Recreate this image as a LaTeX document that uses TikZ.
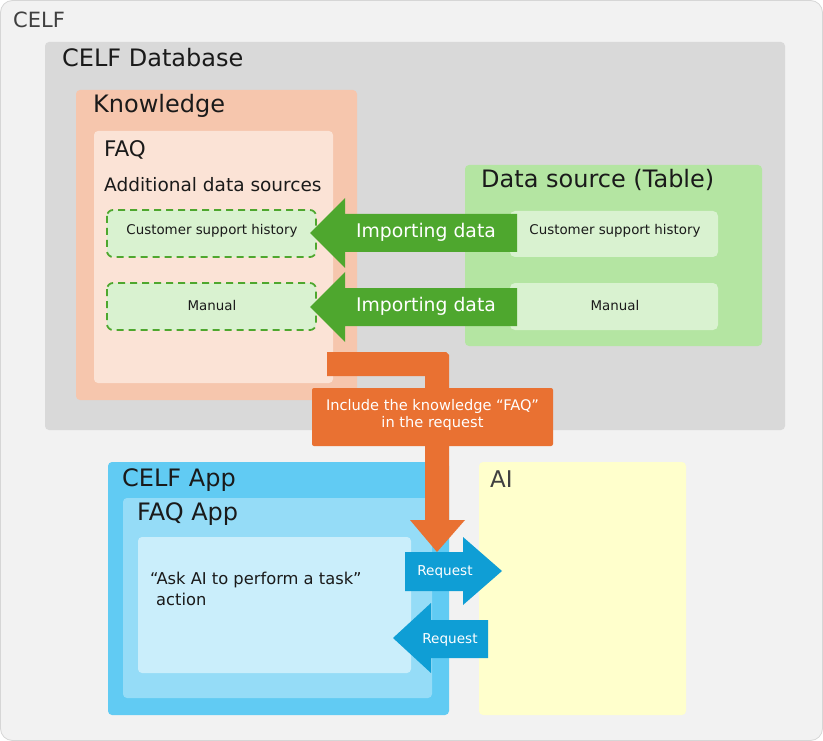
\documentclass[tikz,border=0pt]{standalone}
\usepackage{fontspec}
\setmainfont{DejaVu Sans}
\definecolor{outerbg}{HTML}{F2F2F2}
\definecolor{outerln}{HTML}{D6D6D6}
\definecolor{dbbg}{HTML}{D9D9D9}
\definecolor{orgA}{HTML}{E97132}
\definecolor{orgB}{HTML}{F6C6AD}
\definecolor{orgC}{HTML}{FBE3D6}
\definecolor{grnA}{HTML}{4EA72E}
\definecolor{grnB}{HTML}{B4E5A2}
\definecolor{grnC}{HTML}{D9F2D0}
\definecolor{bluA}{HTML}{0F9ED5}
\definecolor{bluB}{HTML}{61CBF3}
\definecolor{bluC}{HTML}{95DCF7}
\definecolor{bluD}{HTML}{CAEEFB}
\definecolor{aibg}{HTML}{FFFFCC}
\definecolor{txt}{HTML}{1A1A1A}
\definecolor{txtgray}{HTML}{404040}
\tikzset{
  panel/.style={rounded corners=4pt},
  head/.style={anchor=base west, inner sep=0pt, text=txt, font=\fontsize{24}{28}\selectfont},
  small/.style={anchor=base, inner sep=0pt, text=txt, font=\fontsize{13.4}{16}\selectfont},
  arrtxt/.style={anchor=base, inner sep=0pt, text=white},
}
\begin{document}
\begin{tikzpicture}[x=1pt,y=-1pt]
\useasboundingbox (0,0) rectangle (823,741);
% outer
\path[fill=outerbg, draw=outerln, line width=0.8pt, rounded corners=12pt] (0.5,0.5) rectangle (822.5,740.5);
\node[anchor=base west, inner sep=0pt, text=txtgray, font=\fontsize{21}{24}\selectfont] (celf) at (13,28) {CELF};
% database
\path[panel, fill=dbbg] (45,42) rectangle (785,430);
\node[head] (db) at (62,67) {CELF Database};
% knowledge
\path[panel, fill=orgB] (76,90) rectangle (357,400);
\node[head] (kn) at (93,113) {Knowledge};
\path[panel, fill=orgC] (94,131) rectangle (333,383);
\node[head, font=\fontsize{21.5}{24}\selectfont] (faq) at (104,157) {FAQ};
\node[head, font=\fontsize{18.5}{22}\selectfont] (add) at (104,192) {Additional data sources};
\path[rounded corners=6pt, fill=grnC, draw=grnA, line width=1.8pt, dash pattern=on 7pt off 5pt] (107,210) rectangle (316,257);
\node[small] (csh1) at (212,235) {Customer support history};
\path[rounded corners=6pt, fill=grnC, draw=grnA, line width=1.8pt, dash pattern=on 7pt off 5pt] (107,283) rectangle (316,330);
\node[small] (man1) at (212,310) {Manual};
% data source
\path[panel, fill=grnB] (465,165) rectangle (762,346);
\node[head] (ds) at (481,188) {Data source (Table)};
\path[rounded corners=5pt, fill=grnC] (510,211) rectangle (718,257);
\node[small] (csh2) at (615,235) {Customer support history};
\path[rounded corners=5pt, fill=grnC] (510,283) rectangle (718,330);
\node[small] (man2) at (615,310) {Manual};
% green arrows
\path[fill=grnA] (310,233) -- (345,198) -- (345,214) -- (517,214) -- (517,252) -- (345,252) -- (345,268) -- cycle;
\node[arrtxt, font=\fontsize{18.8}{22}\selectfont] (imp1) at (426,238) {Importing data};
\path[fill=grnA] (310,307) -- (345,272) -- (345,288) -- (517,288) -- (517,326) -- (345,326) -- (345,342) -- cycle;
\node[arrtxt, font=\fontsize{18.8}{22}\selectfont] (imp2) at (426,312) {Importing data};
% CELF App
\path[panel, fill=bluB] (108,462) rectangle (449,715);
\node[head] (app) at (122,486) {CELF App};
\path[panel, fill=bluC] (123,498) rectangle (432,698);
\node[head] (faqapp) at (137,520) {FAQ App};
\path[panel, fill=bluD] (138,537) rectangle (411,673);
\node[anchor=base west, inner sep=0pt, text=txt, font=\fontsize{16.3}{21}\selectfont] (ask) at (150,584) {“Ask AI to perform a task”};
\node[anchor=base west, inner sep=0pt, text=txt, font=\fontsize{16.3}{21}\selectfont] (action) at (156,605) {action};
% AI
\path[panel, fill=aibg] (479,462) rectangle (686,715);
\node[anchor=base west, inner sep=0pt, text=txtgray, font=\fontsize{23}{26}\selectfont] (ai) at (490,487) {AI};
% orange arrow
\path[fill=orgA] (327,352) -- (446,352) [rounded corners=0pt] -- (449,355) -- (449,520) -- (465,520) -- (437,552) -- (410,520) -- (425,520) -- (425,376) -- (327,376) -- cycle;
\path[fill=orgA, rounded corners=2pt] (312,388) rectangle (553,446);
\node[arrtxt, font=\fontsize{14.6}{18}\selectfont] (inc1) at (432.5,410) {Include the knowledge “FAQ”};
\node[arrtxt, font=\fontsize{14.6}{18}\selectfont] (inc2) at (432.5,427) {in the request};
% blue arrows
\path[fill=bluA] (405,552) -- (463,552) -- (463,537) -- (502,571) -- (463,605) -- (463,591) -- (405,591) -- cycle;
\node[arrtxt, font=\fontsize{13.6}{16}\selectfont] (req1) at (445,575) {Request};
\path[fill=bluA] (488,620) -- (431,620) -- (431,603) -- (393,638) -- (431,673) -- (431,658) -- (488,658) -- cycle;
\node[arrtxt, font=\fontsize{13.6}{16}\selectfont] (req2) at (450,643) {Request};
\end{tikzpicture}
\end{document}
